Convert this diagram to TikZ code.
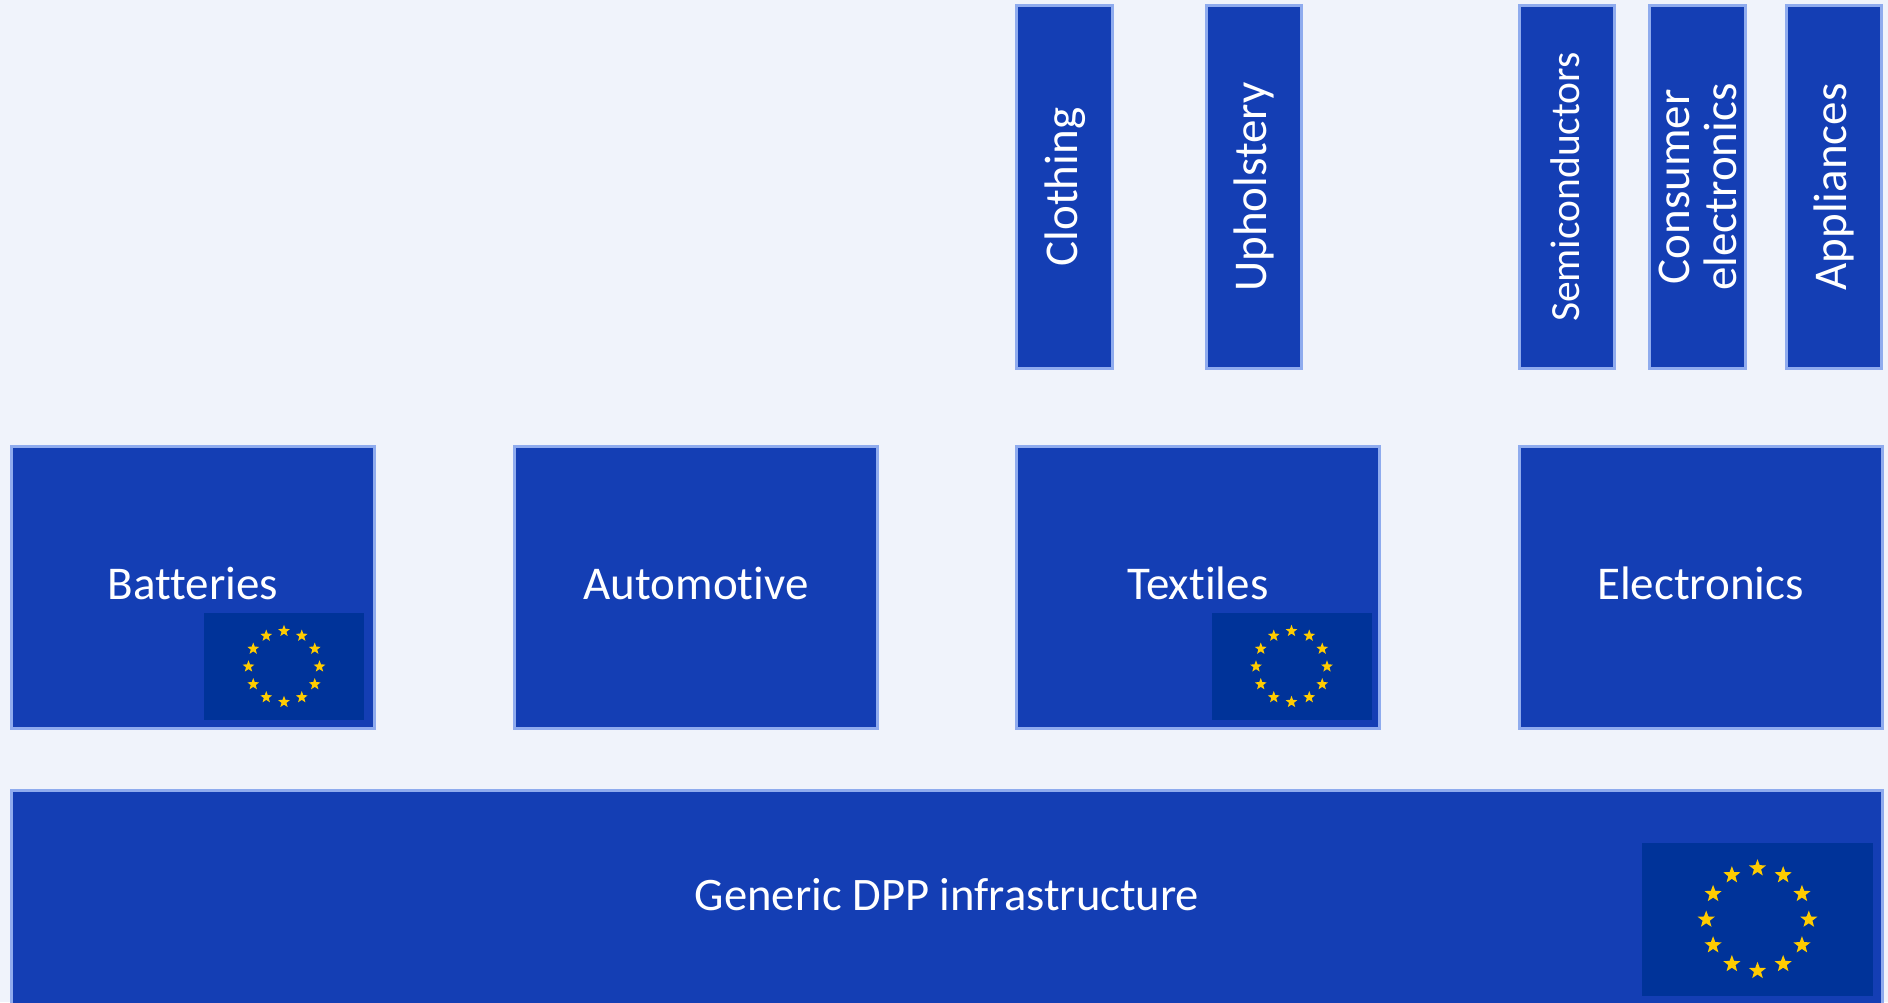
\documentclass[tikz,border=0pt]{standalone}
\usepackage{fontspec}
\setmainfont{Carlito}[Ligatures={NoCommon,NoRare,NoContextual}]
\usetikzlibrary{shapes.geometric}
\definecolor{pagebg}{HTML}{F0F3FB}
\definecolor{sectorblue}{HTML}{143EB4}
\definecolor{sectorline}{HTML}{8FABEE}
\definecolor{flagblue}{HTML}{003399}
\definecolor{flagyellow}{HTML}{FFCC00}
\tikzset{
	sector/.style={draw=sectorline,line width=3pt,fill=sectorblue,text=white,inner sep=0pt,align=center},
	oneline/.style={text height=32pt,text depth=7pt},
	bigfont/.style={font=\fontsize{47}{47}\selectfont},
	smallfont/.style={font=\fontsize{41.5}{45}\selectfont},
	flagbox/.style={fill=flagblue,inner sep=0pt},
	eustar/.style={star,star points=5,star point ratio=2.4,fill=flagyellow,inner sep=0pt}
}
% flag: name, centre x, centre y, width, height, ring radius, star size
\newcommand{\euflag}[7]{%
	\node[flagbox,minimum width=#4,minimum height=#5] (#1) at (#2,#3) {};
	\begin{scope}[shift={(#2,#3)}]
		\foreach \a in {0,30,...,330}
			\node[eustar,minimum size=#7] (#1\a) at (\a:#6) {};
	\end{scope}
}
\begin{document}
\begin{tikzpicture}[x=1pt,y=-1pt]
	\useasboundingbox (0,0) rectangle (1888,1002);
	\clip (0,0) rectangle (1888,1002);
	\fill[pagebg] (0,0) rectangle (1888,1002);
	% upper row
	\node[sector,oneline,bigfont,rotate=90,minimum width=363pt,minimum height=95.5pt] (clothing) at (1064.5,187) {Clothing};
	\node[sector,oneline,bigfont,rotate=90,minimum width=363pt,minimum height=95.5pt] (upholstery) at (1254,187) {Upholstery};
	\node[sector,oneline,smallfont,rotate=90,minimum width=363pt,minimum height=95.5pt] (semiconductors) at (1567,187) {Semiconductors};
	\node[sector,bigfont,rotate=90,minimum width=363pt,minimum height=95.5pt] (consumer) at (1697.5,187) {Consumer\\electronics};
	\node[sector,oneline,bigfont,rotate=90,minimum width=363pt,minimum height=95.5pt] (appliances) at (1834,187) {Appliances};
	% middle row
	\node[sector,oneline,bigfont,minimum width=363pt,minimum height=282pt] (batteries) at (193,587) {Batteries};
	\node[sector,oneline,bigfont,minimum width=363pt,minimum height=282pt] (automotive) at (696,587) {Automotive};
	\node[sector,oneline,bigfont,minimum width=363pt,minimum height=282pt] (textiles) at (1198,587) {Textiles};
	\node[sector,oneline,bigfont,minimum width=363pt,minimum height=282pt] (electronics) at (1700.5,587) {Electronics};
	% base layer runs off the page
	\node[sector,oneline,font=\fontsize{46.6}{47}\selectfont,minimum width=1871pt,minimum height=216pt] (generic) at (947,898) {Generic DPP infrastructure};
	% flags
	\euflag{flagbatteries}{284}{666.5}{160pt}{107pt}{35.5}{12.5pt}
	\euflag{flagtextiles}{1291.5}{666.5}{160pt}{107pt}{35.5}{12.5pt}
	\euflag{flaggeneric}{1757.5}{919.5}{231pt}{153pt}{51.3}{18pt}
\end{tikzpicture}
\end{document}
